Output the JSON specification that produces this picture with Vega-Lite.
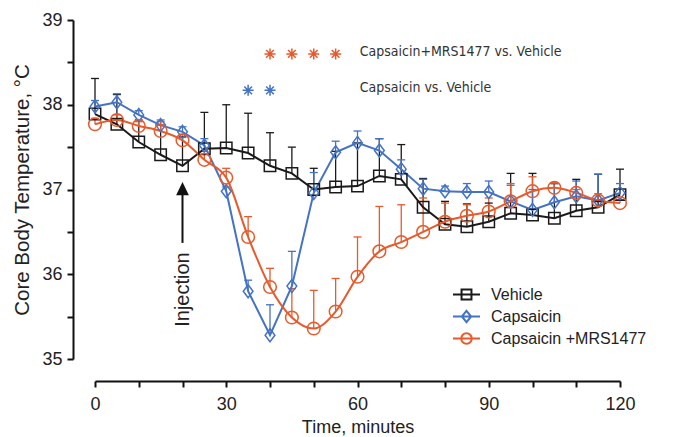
{
  "$schema": "https://vega.github.io/schema/vega-lite/v6.json",
  "width": 525,
  "height": 339,
  "autosize": {"type": "none"},
  "padding": {"left": 95, "top": 20, "right": 58, "bottom": 78},
  "background": "white",
  "config": {
    "view": {"stroke": null},
    "font": "Liberation Sans",
    "axis": {"grid": false, "domainColor": "#111", "tickColor": "#111", "labelColor": "#222", "titleColor": "#222", "labelFont": "Liberation Sans", "titleFont": "Liberation Sans", "titleFontWeight": "normal"},
    "legend": {"orient": "none", "legendX": 363, "legendY": 266, "padding": 0, "symbolSize": 225, "symbolStrokeWidth": 2, "labelFontSize": 16, "labelColor": "#222", "labelFont": "Liberation Sans", "labelOffset": 16, "rowPadding": 2, "title": null}
  },
  "datasets": {
    "series": [
      {"series": "Vehicle", "t": 0, "v": 37.89, "top": 38.31},
      {"series": "Vehicle", "t": 5, "v": 37.77, "top": 38.12},
      {"series": "Vehicle", "t": 10, "v": 37.56, "top": 37.82},
      {"series": "Vehicle", "t": 15, "v": 37.41, "top": 37.76},
      {"series": "Vehicle", "t": 20, "v": 37.28, "top": 37.62},
      {"series": "Vehicle", "t": 25, "v": 37.48, "top": 37.91},
      {"series": "Vehicle", "t": 30, "v": 37.49, "top": 38.0},
      {"series": "Vehicle", "t": 35, "v": 37.43, "top": 37.9},
      {"series": "Vehicle", "t": 40, "v": 37.28, "top": 37.67},
      {"series": "Vehicle", "t": 45, "v": 37.19, "top": 37.5},
      {"series": "Vehicle", "t": 50, "v": 37.0, "top": 37.25},
      {"series": "Vehicle", "t": 55, "v": 37.03, "top": 37.45},
      {"series": "Vehicle", "t": 60, "v": 37.04, "top": 37.55},
      {"series": "Vehicle", "t": 65, "v": 37.16, "top": 37.6},
      {"series": "Vehicle", "t": 70, "v": 37.12, "top": 37.53},
      {"series": "Vehicle", "t": 75, "v": 36.79, "top": 37.13},
      {"series": "Vehicle", "t": 80, "v": 36.59, "top": 36.86},
      {"series": "Vehicle", "t": 85, "v": 36.56, "top": 36.83},
      {"series": "Vehicle", "t": 90, "v": 36.62, "top": 36.84},
      {"series": "Vehicle", "t": 95, "v": 36.72, "top": 37.19},
      {"series": "Vehicle", "t": 100, "v": 36.7, "top": 37.19},
      {"series": "Vehicle", "t": 105, "v": 36.66, "top": 37.07},
      {"series": "Vehicle", "t": 110, "v": 36.75, "top": 37.12},
      {"series": "Vehicle", "t": 115, "v": 36.79, "top": 37.18},
      {"series": "Vehicle", "t": 120, "v": 36.94, "top": 37.24},
      {"series": "Capsaicin", "t": 0, "v": 37.98, "top": 38.05},
      {"series": "Capsaicin", "t": 5, "v": 38.03, "top": 38.13},
      {"series": "Capsaicin", "t": 10, "v": 37.88, "top": 37.93},
      {"series": "Capsaicin", "t": 15, "v": 37.76, "top": 37.82},
      {"series": "Capsaicin", "t": 20, "v": 37.68, "top": 37.74},
      {"series": "Capsaicin", "t": 25, "v": 37.52, "top": 37.6},
      {"series": "Capsaicin", "t": 30, "v": 36.98, "top": 37.03},
      {"series": "Capsaicin", "t": 35, "v": 35.8, "top": 35.93},
      {"series": "Capsaicin", "t": 40, "v": 35.28, "top": 35.64},
      {"series": "Capsaicin", "t": 45, "v": 35.86, "top": 36.27},
      {"series": "Capsaicin", "t": 50, "v": 36.96, "top": 37.2},
      {"series": "Capsaicin", "t": 55, "v": 37.44, "top": 37.57},
      {"series": "Capsaicin", "t": 60, "v": 37.55, "top": 37.69},
      {"series": "Capsaicin", "t": 65, "v": 37.46, "top": 37.6},
      {"series": "Capsaicin", "t": 70, "v": 37.24, "top": 37.35},
      {"series": "Capsaicin", "t": 75, "v": 37.01, "top": 37.12},
      {"series": "Capsaicin", "t": 80, "v": 36.98, "top": 37.04},
      {"series": "Capsaicin", "t": 85, "v": 36.97, "top": 37.07},
      {"series": "Capsaicin", "t": 90, "v": 36.97, "top": 37.1},
      {"series": "Capsaicin", "t": 95, "v": 36.86, "top": 37.05},
      {"series": "Capsaicin", "t": 100, "v": 36.76, "top": 37.0},
      {"series": "Capsaicin", "t": 105, "v": 36.85, "top": 37.07},
      {"series": "Capsaicin", "t": 110, "v": 36.92, "top": 37.1},
      {"series": "Capsaicin", "t": 115, "v": 36.87, "top": 37.18},
      {"series": "Capsaicin", "t": 120, "v": 36.96, "top": 37.07},
      {"series": "Capsaicin +MRS1477", "t": 0, "v": 37.77, "top": 37.84},
      {"series": "Capsaicin +MRS1477", "t": 5, "v": 37.82, "top": 37.88},
      {"series": "Capsaicin +MRS1477", "t": 10, "v": 37.75, "top": 37.8},
      {"series": "Capsaicin +MRS1477", "t": 15, "v": 37.69, "top": 37.8},
      {"series": "Capsaicin +MRS1477", "t": 20, "v": 37.58, "top": 37.65},
      {"series": "Capsaicin +MRS1477", "t": 25, "v": 37.35, "top": 37.45},
      {"series": "Capsaicin +MRS1477", "t": 30, "v": 37.14, "top": 37.25},
      {"series": "Capsaicin +MRS1477", "t": 35, "v": 36.44, "top": 36.68},
      {"series": "Capsaicin +MRS1477", "t": 40, "v": 35.85, "top": 36.07},
      {"series": "Capsaicin +MRS1477", "t": 45, "v": 35.49, "top": 35.83},
      {"series": "Capsaicin +MRS1477", "t": 50, "v": 35.36, "top": 35.81},
      {"series": "Capsaicin +MRS1477", "t": 55, "v": 35.56, "top": 35.95},
      {"series": "Capsaicin +MRS1477", "t": 60, "v": 35.97, "top": 36.44},
      {"series": "Capsaicin +MRS1477", "t": 65, "v": 36.27, "top": 36.8},
      {"series": "Capsaicin +MRS1477", "t": 70, "v": 36.38, "top": 36.82},
      {"series": "Capsaicin +MRS1477", "t": 75, "v": 36.5, "top": 36.9},
      {"series": "Capsaicin +MRS1477", "t": 80, "v": 36.62, "top": 36.84},
      {"series": "Capsaicin +MRS1477", "t": 85, "v": 36.69, "top": 36.82},
      {"series": "Capsaicin +MRS1477", "t": 90, "v": 36.74, "top": 36.9},
      {"series": "Capsaicin +MRS1477", "t": 95, "v": 36.86, "top": 37.07},
      {"series": "Capsaicin +MRS1477", "t": 100, "v": 36.98, "top": 37.15},
      {"series": "Capsaicin +MRS1477", "t": 105, "v": 37.02, "top": 37.08},
      {"series": "Capsaicin +MRS1477", "t": 110, "v": 36.96, "top": 37.0},
      {"series": "Capsaicin +MRS1477", "t": 115, "v": 36.87, "top": 36.95},
      {"series": "Capsaicin +MRS1477", "t": 120, "v": 36.84, "top": 36.88}
    ],
    "stars": [
      {"series": "Capsaicin +MRS1477", "t": 40, "v": 38.6},
      {"series": "Capsaicin +MRS1477", "t": 45, "v": 38.6},
      {"series": "Capsaicin +MRS1477", "t": 50, "v": 38.6},
      {"series": "Capsaicin +MRS1477", "t": 55, "v": 38.6},
      {"series": "Capsaicin", "t": 35, "v": 38.17},
      {"series": "Capsaicin", "t": 40, "v": 38.17}
    ],
    "notes": [
      {"t": 60.5, "v": 38.62, "label": "Capsaicin+MRS1477 vs. Vehicle"},
      {"t": 60.5, "v": 38.2, "label": "Capsaicin vs. Vehicle"}
    ],
    "arrow": [
      {"t": 20, "v": 36.37, "top": 36.95, "head": 37.01, "textv": 35.82, "label": "Injection"}
    ]
  },
  "layer": [
    {
      "data": {"name": "series"},
      "mark": {"type": "rule", "strokeWidth": 1.3},
      "encoding": {
        "x": {"field": "t", "type": "quantitative", "scale": {"domain": [0, 120], "nice": false},
          "axis": {"title": "Time, minutes", "offset": 22, "values": [0,5,10,15,20,25,30,35,40,45,50,55,60,65,70,75,80,85,90,95,100,105,110,115,120],
            "labelExpr": "datum.value % 30 === 0 ? datum.label : ''", "domainWidth": 2, "tickWidth": 2, "tickSize": 6, "labelFontSize": 18, "labelPadding": 8, "titleFontSize": 18, "titlePadding": 5, "labelFlush": false, "labelOverlap": false}},
        "y": {"field": "v", "type": "quantitative", "scale": {"domain": [35, 39], "nice": false, "zero": false},
          "axis": {"title": "Core Body Temperature, °C", "offset": 22, "values": [35,35.5,36,36.5,37,37.5,38,38.5,39],
            "labelExpr": "datum.value % 1 === 0 ? format(datum.value, 'd') : ''", "domainWidth": 2, "tickWidth": 2, "tickSize": 6, "labelFontSize": 18, "labelPadding": 5, "titleFontSize": 20.5, "titlePadding": 9, "labelFlush": false, "labelOverlap": false}},
        "y2": {"field": "top"},
        "color": {"field": "series", "type": "nominal", "scale": {"domain": ["Vehicle", "Capsaicin", "Capsaicin +MRS1477"], "range": ["#1a1a1a", "#4472c4", "#e65a2c"]},
          "legend": {"orient": "none", "legendX": 363, "legendY": 266, "title": null,
            "encode": {"symbols": {"update": {
              "shape": {"signal": "datum.value === 'Vehicle' ? 'M-1.8,0H1.8M-0.66,-0.66H0.66V0.66H-0.66Z' : datum.value === 'Capsaicin' ? 'M-1.8,0H1.8M0,-0.75L0.62,0L0,0.75L-0.62,0Z' : 'M-1.8,0H1.8M0.7,0A0.7,0.7 0 1,1 -0.7,0A0.7,0.7 0 1,1 0.7,0'"},
              "fill": {"value": "transparent"},
              "strokeWidth": {"value": 2}}}}}}
      }
    },
    {
      "data": {"name": "series"},
      "mark": {"type": "point", "shape": "M-1,0H1", "size": 64, "strokeWidth": 1.3, "filled": false, "opacity": 1},
      "encoding": {
        "x": {"field": "t", "type": "quantitative"},
        "y": {"field": "top", "type": "quantitative"},
        "color": {"field": "series", "type": "nominal"}
      }
    },
    {
      "data": {"name": "series"},
      "transform": [{"filter": "datum.series !== 'Capsaicin +MRS1477'"}],
      "mark": {"type": "line", "strokeWidth": 2, "interpolate": "linear"},
      "encoding": {
        "x": {"field": "t", "type": "quantitative"},
        "y": {"field": "v", "type": "quantitative"},
        "color": {"field": "series", "type": "nominal"}
      }
    },
    {
      "data": {"name": "series"},
      "transform": [{"filter": "datum.series === 'Capsaicin +MRS1477'"}],
      "mark": {"type": "line", "strokeWidth": 2, "interpolate": "monotone"},
      "encoding": {
        "x": {"field": "t", "type": "quantitative"},
        "y": {"field": "v", "type": "quantitative"},
        "color": {"field": "series", "type": "nominal"}
      }
    },
    {
      "data": {"name": "series"},
      "transform": [{"filter": "datum.series === 'Vehicle'"}],
      "mark": {"type": "point", "shape": "square", "size": 130, "filled": false, "strokeWidth": 1.5, "opacity": 1},
      "encoding": {
        "x": {"field": "t", "type": "quantitative"},
        "y": {"field": "v", "type": "quantitative"},
        "color": {"field": "series", "type": "nominal"}
      }
    },
    {
      "data": {"name": "series"},
      "transform": [{"filter": "datum.series === 'Capsaicin'"}],
      "mark": {"type": "point", "shape": "M0,-1L0.75,0L0,1L-0.75,0Z", "size": 169, "filled": false, "strokeWidth": 1.5, "opacity": 1},
      "encoding": {
        "x": {"field": "t", "type": "quantitative"},
        "y": {"field": "v", "type": "quantitative"},
        "color": {"field": "series", "type": "nominal"}
      }
    },
    {
      "data": {"name": "series"},
      "transform": [{"filter": "datum.series === 'Capsaicin +MRS1477'"}],
      "mark": {"type": "point", "shape": "circle", "size": 160, "filled": false, "strokeWidth": 1.5, "opacity": 1},
      "encoding": {
        "x": {"field": "t", "type": "quantitative"},
        "y": {"field": "v", "type": "quantitative"},
        "color": {"field": "series", "type": "nominal"}
      }
    },
    {
      "data": {"name": "stars"},
      "mark": {"type": "point", "shape": "M0,-1V1M-1,0H1M-0.7,-0.7L0.7,0.7M-0.7,0.7L0.7,-0.7", "size": 121, "strokeWidth": 1.5, "filled": false, "opacity": 1},
      "encoding": {
        "x": {"field": "t", "type": "quantitative"},
        "y": {"field": "v", "type": "quantitative"},
        "color": {"field": "series", "type": "nominal"}
      }
    },
    {
      "data": {"name": "notes"},
      "mark": {"type": "text", "font": "DejaVu Sans Condensed, Liberation Sans", "fontSize": 14, "align": "left", "baseline": "middle", "color": "#333"},
      "encoding": {
        "x": {"field": "t", "type": "quantitative"},
        "y": {"field": "v", "type": "quantitative"},
        "text": {"field": "label"}
      }
    },
    {
      "data": {"name": "arrow"},
      "mark": {"type": "rule", "strokeWidth": 2, "color": "#111"},
      "encoding": {
        "x": {"field": "t", "type": "quantitative"},
        "y": {"field": "v", "type": "quantitative"},
        "y2": {"field": "top"}
      }
    },
    {
      "data": {"name": "arrow"},
      "mark": {"type": "point", "shape": "M0,-1L0.95,1L-0.95,1Z", "size": 180, "filled": true, "color": "#111", "opacity": 1},
      "encoding": {
        "x": {"field": "t", "type": "quantitative"},
        "y": {"field": "head", "type": "quantitative"}
      }
    },
    {
      "data": {"name": "arrow"},
      "mark": {"type": "text", "fontSize": 20, "angle": 270, "align": "center", "baseline": "middle", "color": "#222", "font": "Liberation Sans"},
      "encoding": {
        "x": {"field": "t", "type": "quantitative"},
        "y": {"field": "textv", "type": "quantitative"},
        "text": {"field": "label"}
      }
    }
  ]
}
